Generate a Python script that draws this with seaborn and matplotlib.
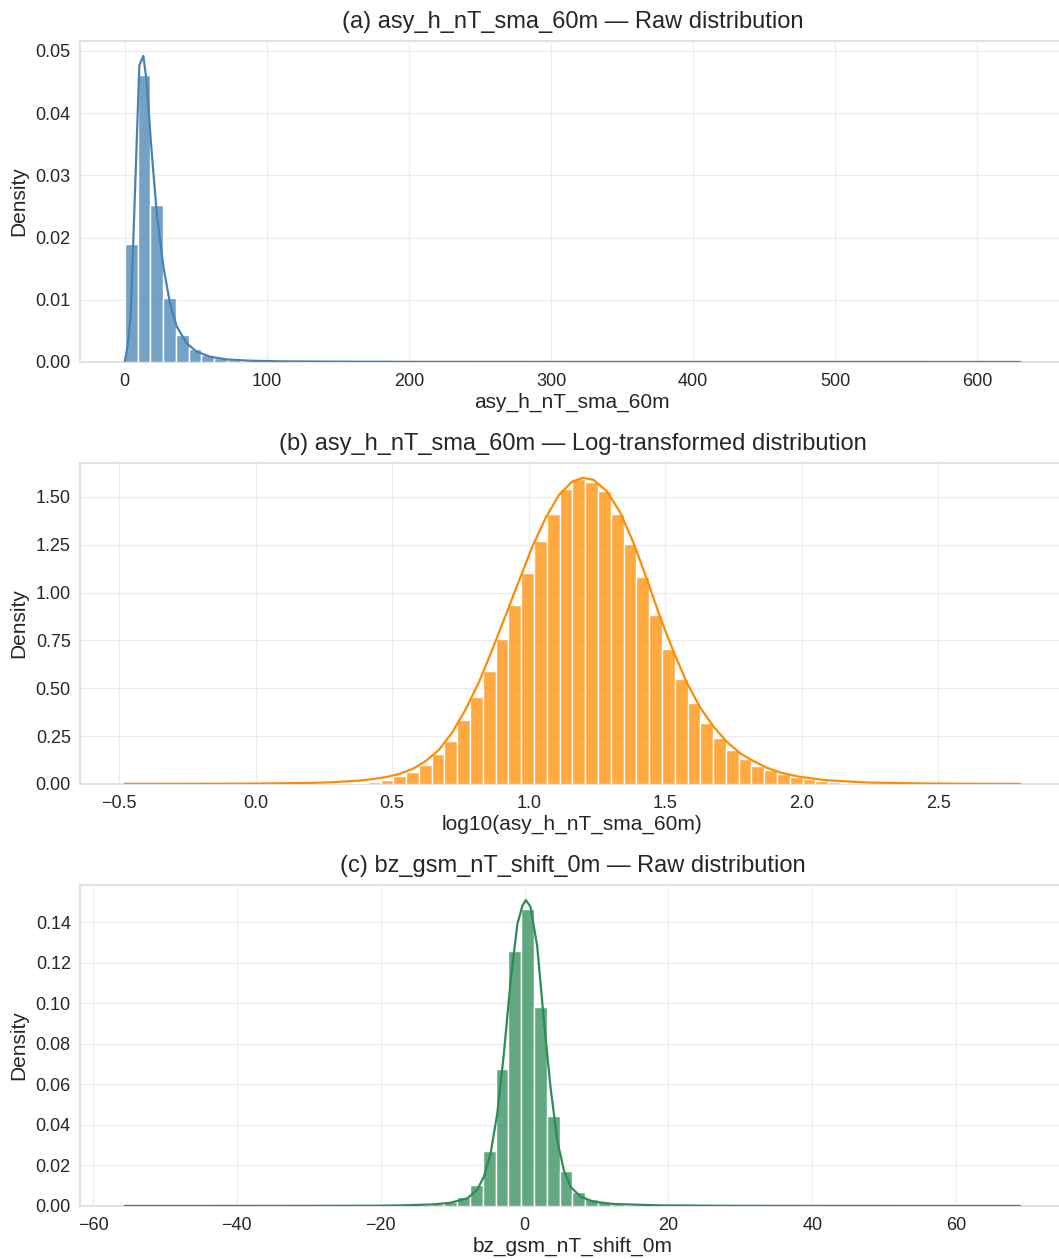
import numpy as np
import pandas as pd
import matplotlib
matplotlib.use("Agg")
import matplotlib.pyplot as plt
import seaborn as sns

# ---------------- data ----------------
# (a) raw asy_h_nT_sma_60m : 70 bins between data min and max
a_range = [0.0, 630.0]
a_heights = [0.0190, 0.0461, 0.0253, 0.0103, 0.0044, 0.0021, 0.0011, 0.00064, 0.00032, 0.00018,
             0.00012, 0.00008, 0.00006, 0.00004, 0.00003, 0.00002, 0.00002, 0.000015, 0.000012, 0.00001,
             0.00001, 0.000008, 0.000007, 0.000006, 0.000005, 0.000005, 0.000004, 0.000004, 0.000003, 0.000003,
             0.000003, 0.000002, 0.000002, 0.000002, 0.000002, 0.000002, 0.000001, 0.000001, 0.000001, 0.000001,
             0.000001, 0.000001, 0.000001, 0.000001, 0.000001, 0.000001, 0.000001, 0.000001, 0.000001, 0.000001,
             0.000001, 0.000001, 0.000001, 0.000001, 0.000001, 0.000001, 0.000001, 0.000001, 0.000001, 0.000001,
             0.000001, 0.000001, 0.000001, 0.000001, 0.000001, 0.000001, 0.000001, 0.000001, 0.000001, 0.000001]
a_kde_x = [0.0, 2.0, 4.2, 10.3, 13.1, 15.5, 18.3, 22.5, 27.2, 31.9, 36.6, 43.6, 50.6, 60.0, 72.0,
           88.0, 110.0, 150.0, 200.0, 300.0, 400.0, 500.0, 630.0]
a_kde_y = [0.0, 0.0025, 0.0073, 0.0477, 0.0492, 0.0450, 0.0357, 0.0240, 0.0153, 0.0094, 0.0057,
           0.0030, 0.00166, 0.00085, 0.0004, 0.0002, 0.0001, 0.00005, 0.00002, 0.00001, 0.000005,
           0.000003, 0.000002]

# (b) log10 transformed
b_range = [-0.48, 2.80]
b_heights = [0.0003, 0.0002, 0.0002, 0.0003, 0.0003, 0.0004, 0.0005, 0.0006, 0.0008, 0.0010,
             0.0012, 0.0015, 0.0018, 0.0022, 0.0026, 0.0032, 0.0040, 0.0050, 0.0070, 0.0110,
             0.0220, 0.0400, 0.0640, 0.0990, 0.1570, 0.2250, 0.3330, 0.4550, 0.5910, 0.7600,
             0.9340, 1.1010, 1.2720, 1.4110, 1.5400, 1.5940, 1.5770, 1.5330, 1.4100, 1.2530,
             1.0800, 0.8820, 0.7040, 0.5510, 0.4230, 0.3190, 0.2400, 0.1780, 0.1310, 0.0940,
             0.0720, 0.0520, 0.0350, 0.0250, 0.0160, 0.0100, 0.0070, 0.0040, 0.0030, 0.0020,
             0.0015, 0.0010, 0.0008, 0.0006, 0.0005, 0.0004, 0.0003, 0.0002, 0.0001, 0.0001]
b_kde_x = [-0.48, -0.207, -0.011, 0.184, 0.281, 0.379, 0.427, 0.477, 0.525, 0.574, 0.623, 0.672,
           0.720, 0.769, 0.817, 0.866, 0.915, 0.964, 1.013, 1.062, 1.110, 1.159, 1.198, 1.237,
           1.286, 1.335, 1.384, 1.433, 1.482, 1.531, 1.579, 1.628, 1.677, 1.726, 1.775, 1.823,
           1.872, 1.921, 1.990, 2.088, 2.234, 2.430, 2.625, 2.80]
b_kde_y = [0.0005, 0.001, 0.002, 0.005, 0.009, 0.018, 0.025, 0.036, 0.052, 0.078, 0.12, 0.18, 0.27,
           0.39, 0.53, 0.70, 0.88, 1.06, 1.24, 1.39, 1.51, 1.58, 1.60, 1.59, 1.53, 1.42, 1.26, 1.07,
           0.87, 0.69, 0.53, 0.40, 0.30, 0.22, 0.16, 0.12, 0.085, 0.06, 0.038, 0.020, 0.008, 0.003,
           0.001, 0.0003]

# (c) bz_gsm_nT_shift_0m
c_range = [-55.6, 68.9]
c_heights = [0.00001, 0.00001, 0.00001, 0.00001, 0.00002, 0.00002, 0.00002, 0.00003, 0.00003, 0.00004,
             0.00004, 0.00005, 0.00006, 0.00007, 0.00008, 0.0001, 0.00012, 0.00015, 0.0002, 0.00025,
             0.0003, 0.0004, 0.0005, 0.0006, 0.0008, 0.0018, 0.0046, 0.0104, 0.0273, 0.0673,
             0.1259, 0.1463, 0.0983, 0.0444, 0.0173, 0.0071, 0.0033, 0.0018, 0.0009, 0.0005,
             0.0003, 0.0002, 0.00015, 0.0001, 0.00008, 0.00006, 0.00005, 0.00004, 0.00003, 0.00003,
             0.00002, 0.00002, 0.00002, 0.00001, 0.00001, 0.00001, 0.00001, 0.00001, 0.00001, 0.00001,
             0.00001, 0.00001, 0.00001, 0.00001, 0.00001, 0.00001, 0.00001, 0.00001, 0.00001, 0.00001]
c_kde_x = [-55.6, -40.0, -30.0, -20.0, -17.2, -12.6, -10.3, -7.96, -6.6, -5.65, -4.72, -3.79, -2.88,
           -1.94, -1.0, -0.3, 0.18, 0.83, 1.76, 2.68, 3.6, 4.54, 5.46, 6.39, 7.78, 9.6, 12.4, 18.9,
           30.0, 45.0, 68.9]
c_kde_y = [0.00001, 0.00003, 0.00006, 0.00015, 0.0003, 0.0008, 0.0016, 0.0038, 0.0079, 0.0145, 0.026,
           0.0457, 0.075, 0.111, 0.139, 0.148, 0.1508, 0.1475, 0.128, 0.0917, 0.0588, 0.0325, 0.0177,
           0.0095, 0.0046, 0.0021, 0.001, 0.0003, 0.00008, 0.00003, 0.00001]

titles = ["(a) asy_h_nT_sma_60m \u2014 Raw distribution",
          "(b) asy_h_nT_sma_60m \u2014 Log-transformed distribution",
          "(c) bz_gsm_nT_shift_0m \u2014 Raw distribution"]
xlabels = ["asy_h_nT_sma_60m", "log10(asy_h_nT_sma_60m)", "bz_gsm_nT_shift_0m"]
colors = ["steelblue", "darkorange", "seagreen"]

# ---------------- style ----------------
sns.set_theme(style="whitegrid")
plt.rcParams["font.family"] = ["Liberation Sans", "DejaVu Sans"]
plt.rcParams["grid.color"] = "#ececec"
plt.rcParams["axes.edgecolor"] = "#dddddd"

fig = plt.figure(figsize=(10.59, 12.59), dpi=100)
rects = [[0.0755, 0.7125, 0.930, 0.2552],
         [0.0755, 0.3773, 0.930, 0.2553],
         [0.0755, 0.0421, 0.930, 0.2551]]

panels = [(a_range, a_heights, a_kde_x, a_kde_y),
          (b_range, b_heights, b_kde_x, b_kde_y),
          (c_range, c_heights, c_kde_x, c_kde_y)]

for k, ((rng, h, kx, ky), rect) in enumerate(zip(panels, rects)):
    ax = fig.add_axes(rect)
    nb = len(h)
    width = (rng[1] - rng[0]) / nb
    centers = [rng[0] + (i + 0.5) * width for i in range(nb)]
    df = pd.DataFrame({"x": centers, "w": h})
    sns.histplot(data=df, x="x", weights="w", bins=nb, binrange=(rng[0], rng[1]),
                 stat="count", color=colors[k], alpha=0.75, edgecolor="white",
                 linewidth=1.0, ax=ax)
    kdf = pd.DataFrame({"x": kx, "y": ky})
    sns.lineplot(data=kdf, x="x", y="y", color=colors[k], linewidth=1.6, ax=ax)
    ax.set_title(titles[k], fontsize=17, color="#262626", pad=9)
    ax.set_xlabel(xlabels[k], fontsize=15, color="#262626", labelpad=2)
    ax.set_ylabel("Density", fontsize=15, color="#262626", labelpad=5)
    ax.tick_params(labelsize=13, colors="#262626")
    ax.tick_params(axis="y", pad=0.6)
    ax.tick_params(axis="x", pad=2.0)
    span = rng[1] - rng[0]
    ax.set_xlim(rng[0] - 0.05 * span, rng[1] + 0.05 * span)
    ax.set_ylim(0, max(max(h), max(ky)) * 1.05)
    ax.grid(True, color="#ececec", linewidth=0.8)
    for s in ax.spines.values():
        s.set_zorder(0.5)

fig.savefig("out.png", dpi=100)
